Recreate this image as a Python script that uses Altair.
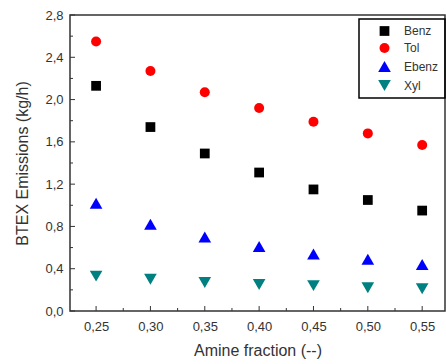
import altair as alt
import pandas as pd

x_vals = [0.25, 0.30, 0.35, 0.40, 0.45, 0.50, 0.55]
benz = [2.13, 1.74, 1.49, 1.31, 1.15, 1.05, 0.95]
tol = [2.55, 2.27, 2.07, 1.92, 1.79, 1.68, 1.57]
ebenz = [1.02, 0.82, 0.70, 0.61, 0.54, 0.49, 0.44]
xyl = [0.33, 0.30, 0.27, 0.25, 0.24, 0.22, 0.21]
series = ["Benz", "Tol", "Ebenz", "Xyl"]
colors = ["#000000", "#ff0000", "#0000ff", "#008080"]
shapes = ["square", "circle", "triangle-up", "triangle-down"]
sizes = [95, 100, 160, 160]
x_ticks = [0.25, 0.30, 0.35, 0.40, 0.45, 0.50, 0.55]
x_minor = [0.275, 0.325, 0.375, 0.425, 0.475, 0.525]
y_ticks = [0.0, 0.4, 0.8, 1.2, 1.6, 2.0, 2.4, 2.8]
y_minor = [0.2, 0.6, 1.0, 1.4, 1.8, 2.2, 2.6]

rows = []
for name, vals in zip(series, [benz, tol, ebenz, xyl]):
    for xv, yv in zip(x_vals, vals):
        rows.append({"x": xv, "y": yv, "s": name})
df = pd.DataFrame(rows)

W, H = 375, 296
xs = alt.Scale(domain=[0.226, 0.571], nice=False, zero=False)
ys = alt.Scale(domain=[0, 2.8], nice=False)
FONT = "Liberation Sans"

pts = alt.Chart(df).mark_point(filled=True, opacity=1).encode(
    x=alt.X("x:Q", scale=xs, title="Amine fraction (--)",
            axis=alt.Axis(values=x_ticks, format=".2f", labelExpr="replace(datum.label, '.', ',')",
                          grid=False, ticks=False, domain=False, labelPadding=9, titlePadding=9,
                          labelFontSize=13, titleFontSize=16, labelColor="#333333", titleColor="#333333",
                          titleFontWeight="normal", labelFont=FONT, titleFont=FONT)),
    y=alt.Y("y:Q", scale=ys, title="BTEX Emissions (kg/h)",
            axis=alt.Axis(values=y_ticks, format=".1f", labelExpr="replace(datum.label, '.', ',')",
                          grid=False, ticks=False, domain=False, labelPadding=7, titlePadding=14,
                          labelFontSize=13, titleFontSize=16, labelColor="#333333", titleColor="#333333",
                          titleFontWeight="normal", labelFont=FONT, titleFont=FONT)),
    color=alt.Color("s:N", scale=alt.Scale(domain=series, range=colors),
                    legend=alt.Legend(title=None, orient="none", legendX=289, legendY=4,
                                      strokeColor="#000000", padding=6, rowPadding=5,
                                      labelFontSize=12, labelFont=FONT, labelColor="#333333",
                                      labelOffset=12, symbolOffset=12)),
    shape=alt.Shape("s:N", scale=alt.Scale(domain=series, range=shapes), legend=None),
    size=alt.Size("s:O", scale=alt.Scale(type="ordinal", domain=series, range=sizes), legend=None),
)

xt = pd.DataFrame({"v": x_ticks})
xm = pd.DataFrame({"v": x_minor})
yt = pd.DataFrame({"v": y_ticks})
ym = pd.DataFrame({"v": y_minor})

xtick = alt.Chart(xt).mark_rule(color="#333333").encode(x=alt.X("v:Q", scale=xs), y=alt.value(H), y2=alt.value(H - 5))
xmtick = alt.Chart(xm).mark_rule(color="#333333").encode(x=alt.X("v:Q", scale=xs), y=alt.value(H), y2=alt.value(H - 3))
ytick = alt.Chart(yt).mark_rule(color="#333333").encode(y=alt.Y("v:Q", scale=ys), x=alt.value(0), x2=alt.value(5))
ymtick = alt.Chart(ym).mark_rule(color="#333333").encode(y=alt.Y("v:Q", scale=ys), x=alt.value(0), x2=alt.value(3))

chart = alt.layer(xtick, xmtick, ytick, ymtick, pts).properties(
    width=W, height=H,
    autosize=alt.AutoSizeParams(type="none"),
    padding={"left": 70, "top": 15, "right": 1, "bottom": 53},
    background="white",
).configure_view(stroke="#333333", strokeWidth=1.5).configure_legend(strokeWidth=1.5)

chart.save("out.html", embed_options={"renderer": "svg", "actions": False})
